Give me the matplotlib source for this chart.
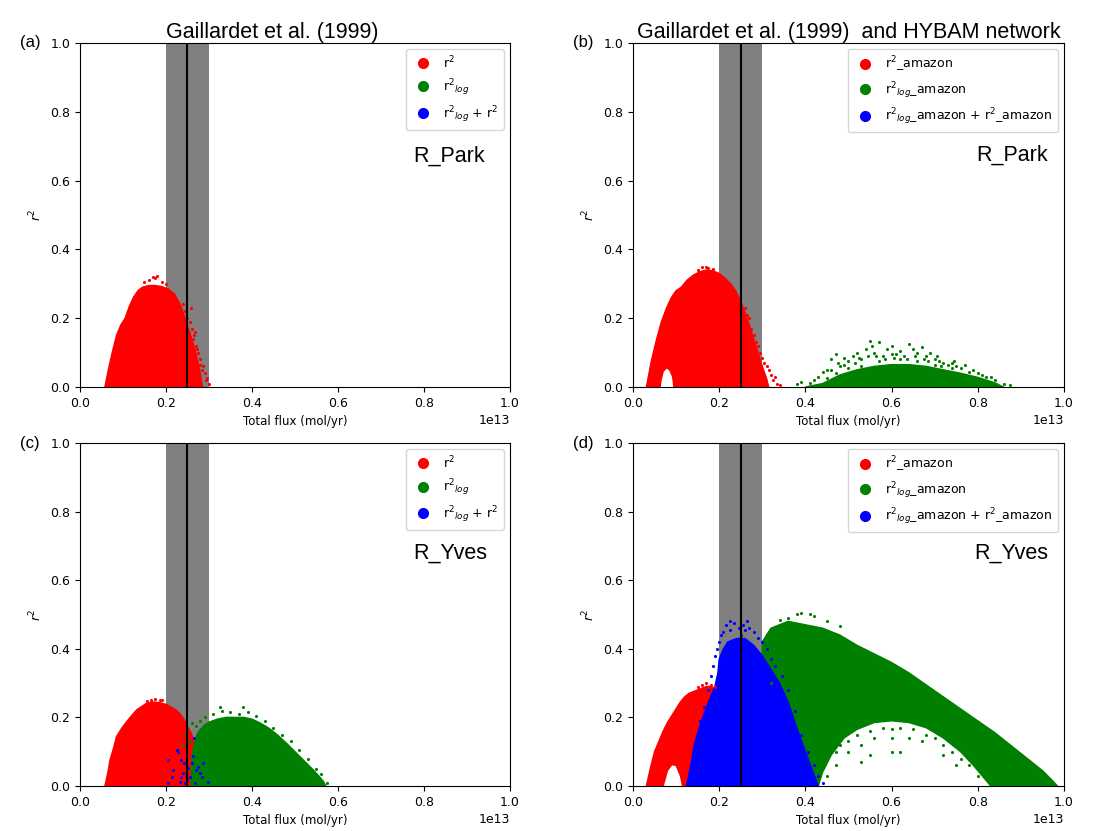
import numpy as np
import matplotlib.pyplot as plt
from matplotlib.lines import Line2D

SCALE = 1e13  # x values below are in units of 1e13 mol/yr

# ---- cloud outlines (x, r2) ----
# (a) Gaillardet, R_Park
a_red_x = [0.058, 0.066, 0.075, 0.085, 0.095, 0.105, 0.115, 0.125, 0.135, 0.145, 0.16, 0.175,
           0.19, 0.205, 0.22, 0.235, 0.245, 0.255, 0.265, 0.273, 0.28, 0.285]
a_red_y = [0.0, 0.05, 0.1, 0.15, 0.18, 0.2, 0.235, 0.262, 0.28, 0.29, 0.295, 0.295,
           0.292, 0.285, 0.27, 0.235, 0.2, 0.16, 0.12, 0.08, 0.04, 0.0]
a_red_dots_x = [0.15, 0.16, 0.17, 0.175, 0.18, 0.19, 0.2, 0.24, 0.245, 0.25, 0.255, 0.26, 0.262,
                0.265, 0.268, 0.27, 0.272, 0.275, 0.278, 0.28, 0.283, 0.285, 0.29, 0.292, 0.295, 0.3, 0.258]
a_red_dots_y = [0.305, 0.31, 0.32, 0.318, 0.322, 0.305, 0.3, 0.24, 0.22, 0.2, 0.19, 0.17, 0.14,
                0.15, 0.16, 0.12, 0.11, 0.1, 0.065, 0.08, 0.05, 0.06, 0.04, 0.02, 0.025, 0.01, 0.23]

# (b) Gaillardet + HYBAM, R_Park
b_red_x = [0.031, 0.043, 0.055, 0.066, 0.078, 0.089, 0.1, 0.112, 0.125, 0.14, 0.155, 0.17, 0.185,
           0.2, 0.215, 0.23, 0.24, 0.25, 0.26, 0.27, 0.28, 0.29, 0.3, 0.31, 0.315,
           0.095, 0.092, 0.085, 0.078, 0.07, 0.065, 0.063]
b_red_y = [0.0, 0.078, 0.14, 0.19, 0.23, 0.26, 0.28, 0.29, 0.31, 0.325, 0.335, 0.34, 0.338,
           0.33, 0.315, 0.295, 0.275, 0.25, 0.215, 0.18, 0.14, 0.1, 0.06, 0.025, 0.0,
           0.0, 0.03, 0.05, 0.056, 0.045, 0.02, 0.0]
b_red_dots_x = [0.15, 0.16, 0.17, 0.175, 0.185, 0.26, 0.265, 0.27, 0.275, 0.28, 0.285, 0.29, 0.295,
                0.3, 0.305, 0.31, 0.315, 0.32, 0.325, 0.33, 0.335, 0.34]
b_red_dots_y = [0.34, 0.348, 0.35, 0.345, 0.342, 0.23, 0.21, 0.2, 0.17, 0.15, 0.13, 0.12, 0.1,
                0.085, 0.07, 0.06, 0.05, 0.035, 0.02, 0.03, 0.01, 0.005]
b_green_x = [0.40, 0.44, 0.48, 0.52, 0.56, 0.60, 0.64, 0.68, 0.72, 0.76, 0.80, 0.84, 0.86]
b_green_y = [0.0, 0.01, 0.035, 0.05, 0.06, 0.065, 0.065, 0.06, 0.05, 0.04, 0.028, 0.012, 0.0]
b_green_dots_x = [0.38, 0.39, 0.41, 0.42, 0.43, 0.44, 0.45, 0.46, 0.47, 0.475, 0.48, 0.49, 0.50,
                  0.51, 0.52, 0.53, 0.54, 0.55, 0.555, 0.56, 0.57, 0.58, 0.59, 0.60, 0.61, 0.62,
                  0.63, 0.64, 0.65, 0.66, 0.67, 0.68, 0.69, 0.70, 0.71, 0.72, 0.73, 0.74, 0.75,
                  0.76, 0.78, 0.80, 0.82, 0.84, 0.86, 0.875, 0.53, 0.57, 0.62, 0.66, 0.70, 0.74,
                  0.47, 0.50, 0.45, 0.515, 0.545, 0.585, 0.605, 0.635, 0.655, 0.685, 0.715, 0.745,
                  0.77, 0.79, 0.81, 0.83, 0.46, 0.49, 0.525, 0.565, 0.6, 0.675, 0.705]
b_green_dots_y = [0.01, 0.015, 0.012, 0.02, 0.03, 0.045, 0.05, 0.08, 0.095, 0.07, 0.06, 0.085, 0.075,
                  0.09, 0.1, 0.08, 0.11, 0.135, 0.12, 0.1, 0.13, 0.09, 0.11, 0.12, 0.095, 0.105,
                  0.09, 0.125, 0.11, 0.1, 0.115, 0.09, 0.1, 0.08, 0.075, 0.07, 0.065, 0.07, 0.06,
                  0.055, 0.045, 0.04, 0.03, 0.02, 0.01, 0.005, 0.06, 0.075, 0.08, 0.075, 0.065, 0.055,
                  0.04, 0.055, 0.025, 0.07, 0.09, 0.08, 0.085, 0.08, 0.09, 0.075, 0.06, 0.075,
                  0.065, 0.05, 0.035, 0.03, 0.05, 0.065, 0.085, 0.09, 0.095, 0.08, 0.09]

# (c) Gaillardet, R_Yves
c_red_x = [0.058, 0.065, 0.07, 0.078, 0.085, 0.097, 0.109, 0.12, 0.132, 0.145, 0.155, 0.17, 0.185,
           0.2, 0.215, 0.225, 0.235, 0.244, 0.252, 0.26, 0.266, 0.271, 0.276, 0.279, 0.282]
c_red_y = [0.0, 0.04, 0.076, 0.11, 0.144, 0.168, 0.188, 0.205, 0.222, 0.233, 0.241, 0.245, 0.243,
           0.238, 0.228, 0.22, 0.207, 0.19, 0.17, 0.15, 0.125, 0.1, 0.07, 0.04, 0.0]
c_red_dots_x = [0.155, 0.165, 0.175, 0.185, 0.19]
c_red_dots_y = [0.248, 0.25, 0.253, 0.252, 0.25]
c_green_x = [0.258, 0.26, 0.265, 0.272, 0.28, 0.29, 0.30, 0.32, 0.34, 0.36, 0.38, 0.40, 0.42, 0.44,
             0.46, 0.48, 0.50, 0.52, 0.54, 0.555, 0.565, 0.572]
c_green_y = [0.0, 0.08, 0.12, 0.15, 0.165, 0.178, 0.186, 0.195, 0.2, 0.2, 0.2, 0.195, 0.183, 0.168,
             0.148, 0.125, 0.1, 0.075, 0.05, 0.03, 0.015, 0.0]
c_green_dots_x = [0.245, 0.25, 0.26, 0.27, 0.28, 0.29, 0.31, 0.325, 0.33, 0.35, 0.37, 0.38, 0.39,
                  0.41, 0.43, 0.45, 0.47, 0.49, 0.51, 0.53, 0.55, 0.56, 0.575, 0.24, 0.255]
c_green_dots_y = [0.15, 0.17, 0.185, 0.175, 0.19, 0.2, 0.21, 0.23, 0.22, 0.215, 0.21, 0.23, 0.215,
                  0.205, 0.19, 0.17, 0.15, 0.13, 0.105, 0.08, 0.05, 0.035, 0.01, 0.12, 0.13]
c_blue_dots_x = [0.205, 0.225, 0.229, 0.217, 0.236, 0.24, 0.248, 0.252, 0.26, 0.264, 0.271, 0.279,
                 0.287, 0.283, 0.298, 0.233, 0.244, 0.213, 0.256, 0.267, 0.275, 0.205, 0.243, 0.265, 0.236]
c_blue_dots_y = [0.076, 0.105, 0.1, 0.047, 0.027, 0.037, 0.018, 0.052, 0.066, 0.086, 0.047, 0.037,
                 0.066, 0.027, 0.013, 0.013, 0.008, 0.027, 0.027, 0.008, 0.056, 0.008, 0.066, 0.14, 0.076]

# (d) Gaillardet + HYBAM, R_Yves
d_red_x = [0.031, 0.04, 0.05, 0.06, 0.07, 0.08, 0.09, 0.10, 0.11, 0.12, 0.13, 0.14, 0.15, 0.16,
           0.17, 0.18, 0.19, 0.2, 0.21, 0.21,
           0.115, 0.11, 0.10, 0.09, 0.08, 0.07]
d_red_y = [0.0, 0.05, 0.1, 0.13, 0.16, 0.185, 0.205, 0.225, 0.245, 0.26, 0.27, 0.275, 0.28, 0.285,
           0.29, 0.29, 0.285, 0.27, 0.25, 0.0,
           0.0, 0.03, 0.06, 0.062, 0.045, 0.0]
d_red_dots_x = [0.15, 0.16, 0.17, 0.18, 0.19]
d_red_dots_y = [0.29, 0.295, 0.3, 0.295, 0.29]
d_green_x = [0.30, 0.30, 0.32, 0.36, 0.40, 0.44, 0.48, 0.52, 0.56, 0.60, 0.64, 0.68, 0.72, 0.76,
             0.80, 0.84, 0.88, 0.92, 0.95, 0.97, 0.985,
             0.83, 0.81, 0.79, 0.76, 0.72, 0.68, 0.64, 0.60, 0.56, 0.52, 0.49, 0.46, 0.44, 0.43]
d_green_y = [0.0, 0.42, 0.46, 0.48, 0.47, 0.46, 0.44, 0.41, 0.385, 0.36, 0.33, 0.295, 0.26, 0.225,
             0.19, 0.155, 0.115, 0.075, 0.045, 0.02, 0.0,
             0.0, 0.03, 0.06, 0.1, 0.14, 0.17, 0.185, 0.19, 0.185, 0.165, 0.14, 0.09, 0.04, 0.0]
d_green_dots_x = [0.38, 0.39, 0.41, 0.42, 0.36, 0.34, 0.45, 0.48, 0.31, 0.32, 0.35, 0.47, 0.48, 0.5,
                  0.52, 0.55, 0.58, 0.6, 0.62, 0.65, 0.68, 0.7, 0.72, 0.74, 0.76, 0.78, 0.8, 0.5,
                  0.53, 0.56, 0.6, 0.64, 0.67, 0.55, 0.6, 0.53, 0.62, 0.72, 0.75, 0.47, 0.45]
d_green_dots_y = [0.5, 0.505, 0.5, 0.495, 0.49, 0.485, 0.48, 0.465, 0.44, 0.3, 0.36, 0.1, 0.12, 0.13,
                  0.15, 0.16, 0.17, 0.165, 0.17, 0.165, 0.15, 0.14, 0.12, 0.1, 0.08, 0.06, 0.03, 0.1,
                  0.12, 0.14, 0.14, 0.14, 0.13, 0.09, 0.1, 0.07, 0.1, 0.09, 0.06, 0.06, 0.03]
d_blue_x = [0.124, 0.135, 0.143, 0.159, 0.174, 0.19, 0.197, 0.2, 0.21, 0.22, 0.24, 0.26, 0.28, 0.30,
            0.32, 0.34, 0.36, 0.38, 0.40, 0.415, 0.43]
d_blue_y = [0.0, 0.066, 0.125, 0.19, 0.24, 0.29, 0.33, 0.37, 0.40, 0.42, 0.43, 0.43, 0.41, 0.38,
            0.34, 0.3, 0.245, 0.17, 0.1, 0.05, 0.0]
d_blue_dots_x = [0.2, 0.205, 0.21, 0.215, 0.225, 0.235, 0.245, 0.255, 0.265, 0.27, 0.28, 0.29, 0.3,
                 0.31, 0.32, 0.33, 0.345, 0.36, 0.375, 0.39, 0.405, 0.42, 0.43, 0.44, 0.19, 0.195,
                 0.185, 0.175, 0.165, 0.155, 0.15, 0.14, 0.135, 0.13, 0.18, 0.225, 0.25, 0.26]
d_blue_dots_y = [0.42, 0.44, 0.45, 0.47, 0.48, 0.475, 0.46, 0.47, 0.48, 0.46, 0.45, 0.43, 0.42,
                 0.4, 0.37, 0.35, 0.32, 0.28, 0.22, 0.15, 0.1, 0.06, 0.03, 0.01, 0.38, 0.4,
                 0.35, 0.28, 0.23, 0.19, 0.15, 0.1, 0.05, 0.02, 0.32, 0.455, 0.44, 0.455]

titles = ['Gaillardet et al. (1999)', 'Gaillardet et al. (1999)  and HYBAM network', None, None]
panel_tags = ['(a)', '(b)', '(c)', '(d)']
site_names = ['R_Park', 'R_Park', 'R_Yves', 'R_Yves']
labels_gail = ['r$^{2}$', 'r$^{2}{}_{log}$', 'r$^{2}{}_{log}$ + r$^{2}$']
labels_amaz = ['r$^{2}$_amazon', 'r$^{2}{}_{log}$_amazon', 'r$^{2}{}_{log}$_amazon + r$^{2}$_amazon']

RED, GREEN, BLUE = '#ff0000', '#008000', '#0000ff'

panels = [
    dict(fills=[(a_red_x, a_red_y, RED)],
         dots=[(a_red_dots_x, a_red_dots_y, RED)]),
    dict(fills=[(b_red_x, b_red_y, RED), (b_green_x, b_green_y, GREEN)],
         dots=[(b_red_dots_x, b_red_dots_y, RED), (b_green_dots_x, b_green_dots_y, GREEN)]),
    dict(fills=[(c_red_x, c_red_y, RED), (c_green_x, c_green_y, GREEN)],
         dots=[(c_red_dots_x, c_red_dots_y, RED), (c_green_dots_x, c_green_dots_y, GREEN),
               (c_blue_dots_x, c_blue_dots_y, BLUE)]),
    dict(fills=[(d_red_x, d_red_y, RED), (d_green_x, d_green_y, GREEN), (d_blue_x, d_blue_y, BLUE)],
         dots=[(d_red_dots_x, d_red_dots_y, RED), (d_green_dots_x, d_green_dots_y, GREEN),
               (d_blue_dots_x, d_blue_dots_y, BLUE)]),
]

# axes boxes in figure fractions
boxes = [[0.0717, 0.5343, 0.3857, 0.414],
         [0.5677, 0.5343, 0.3865, 0.414],
         [0.0717, 0.0542, 0.3857, 0.4127],
         [0.5677, 0.0542, 0.3865, 0.4127]]
title_x = [0.447, 0.5, None, None]
site_pos = [(0.774, 0.654), (0.796, 0.657), (0.774, 0.662), (0.793, 0.662)]

fig = plt.figure(figsize=(11.15, 8.31), dpi=100)

for i in range(4):
    ax = fig.add_axes(boxes[i])
    p = panels[i]
    ax.axvspan(0.2 * SCALE, 0.3 * SCALE, color='#808080', lw=0, zorder=1)
    for fx, fy, col in p['fills']:
        ax.fill(np.array(fx) * SCALE, fy, color=col, lw=1.0, zorder=2)
    for dx, dy, col in p['dots']:
        ax.scatter(np.array(dx) * SCALE, dy, s=5, color=col, lw=0, zorder=3)
    ax.axvline(0.25 * SCALE, color='black', lw=1.5, zorder=4)

    ax.set_xlim(0, SCALE)
    ax.set_ylim(0, 1.0)
    ax.tick_params(labelsize=9)
    ax.xaxis.get_offset_text().set_fontsize(9)
    ax.set_xlabel('Total flux (mol/yr)', fontsize=8.5)
    ax.set_ylabel('$r^2$', fontsize=9)

    labs = labels_gail if i % 2 == 0 else labels_amaz
    handles = [Line2D([], [], ls='none', marker='o', color=c, markersize=7) for c in (RED, GREEN, BLUE)]
    ax.legend(handles, labs, loc='upper right', fontsize=9, handletextpad=0.6)

    if titles[i]:
        ax.text(title_x[i], 1.0, titles[i], transform=ax.transAxes, ha='center', va='bottom',
                fontsize=15.5, family='Liberation Sans')
    ax.text(-0.14, 1.0, panel_tags[i], transform=ax.transAxes, ha='left', va='center',
            fontsize=12, family='Liberation Sans')
    ax.text(site_pos[i][0], site_pos[i][1], site_names[i], transform=ax.transAxes,
            ha='left', va='baseline', fontsize=15.5, family='Liberation Sans')

fig.savefig('out.png', dpi=100)
